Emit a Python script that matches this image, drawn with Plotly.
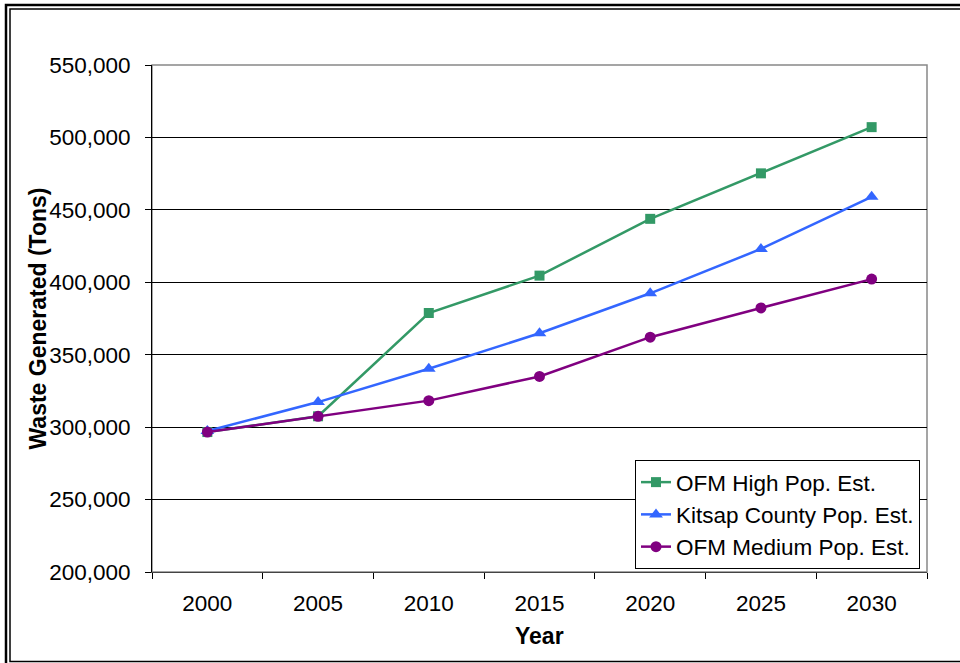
import plotly.graph_objects as go

years = ["2000", "2005", "2010", "2015", "2020", "2025", "2030"]
ofm_high = [296600, 307500, 378800, 404600, 443800, 475200, 507100]
kitsap = [297300, 317300, 340300, 364800, 392400, 423000, 459000]
ofm_medium = [296600, 307500, 318300, 335000, 362100, 382300, 402200]

y_ticks = [200000, 250000, 300000, 350000, 400000, 450000, 500000, 550000]

W, H = 960, 663
L, R, T, B = 152, 33, 65, 91
PW, PH = W - L - R, H - T - B

def px(x):
    return (x - L) / PW

def py(y):
    return (H - B - y) / PH

FONT = "Liberation Sans, Arial, sans-serif"
FS = 22.5

fig = go.Figure()
series = [
    ("OFM High Pop. Est.", ofm_high, "#339966", "square", 10),
    ("Kitsap County Pop. Est.", kitsap, "#3366FF", "triangle-up", 12),
    ("OFM Medium Pop. Est.", ofm_medium, "#800080", "circle", 11),
]
for name, vals, col, sym, sz in series:
    fig.add_trace(go.Scatter(
        x=years, y=vals, name=name, mode="lines+markers",
        line=dict(color=col, width=2.5),
        marker=dict(symbol=sym, size=sz, color=col),
        legendgroup=name,
    ))

shapes = [
    dict(type="rect", xref="paper", yref="paper", x0=0, y0=0, x1=1, y1=1,
         line=dict(color="#888888", width=1.5), layer="between"),
    dict(type="rect", xref="paper", yref="paper", x0=px(6), y0=py(5), x1=px(975), y1=py(680),
         line=dict(color="black", width=2.5), layer="above"),
    dict(type="rect", xref="paper", yref="paper", x0=px(10), y0=py(9), x1=px(970), y1=py(661.5),
         line=dict(color="black", width=1.5), layer="above"),
]

annotations = [
    dict(text="<b>Waste Generated (Tons)</b>", xref="paper", yref="paper",
         x=px(37), y=0.5, textangle=-90, showarrow=False,
         font=dict(family=FONT, size=23, color="black"), xanchor="center", yanchor="middle"),
    dict(text="<b>Year</b>", xref="paper", yref="paper",
         x=0.5, y=py(636), showarrow=False,
         font=dict(family=FONT, size=23, color="black"), xanchor="center", yanchor="middle"),
]

fig.update_layout(
    width=W, height=H,
    margin=dict(l=L, r=R, t=T, b=B, pad=0),
    paper_bgcolor="white", plot_bgcolor="white",
    font=dict(family=FONT, size=FS, color="black"),
    showlegend=True,
    legend=dict(
        x=px(635), y=py(460), xanchor="left", yanchor="top",
        bgcolor="white", bordercolor="black", borderwidth=1,
        font=dict(family=FONT, size=FS, color="black"),
        itemwidth=30, tracegroupgap=0,
    ),
    shapes=shapes,
    annotations=annotations,
)

fig.update_xaxes(
    type="category", range=[-0.5, 6.5],
    tickson="boundaries", ticks="outside", ticklen=6, tickcolor="black",
    showline=True, linecolor="#444444", linewidth=1,
    showgrid=False, ticklabelstandoff=11,
    tickfont=dict(family=FONT, size=FS, color="black"),
)
fig.update_yaxes(
    range=[200000, 550000], tickvals=y_ticks, tickformat=",",
    ticks="outside", ticklen=6, tickcolor="black",
    showline=True, linecolor="black", linewidth=1,
    showgrid=True, gridcolor="black", gridwidth=1, zeroline=False,
    ticklabelstandoff=10,
    tickfont=dict(family=FONT, size=FS, color="black"),
)

fig.write_html("out.html")
